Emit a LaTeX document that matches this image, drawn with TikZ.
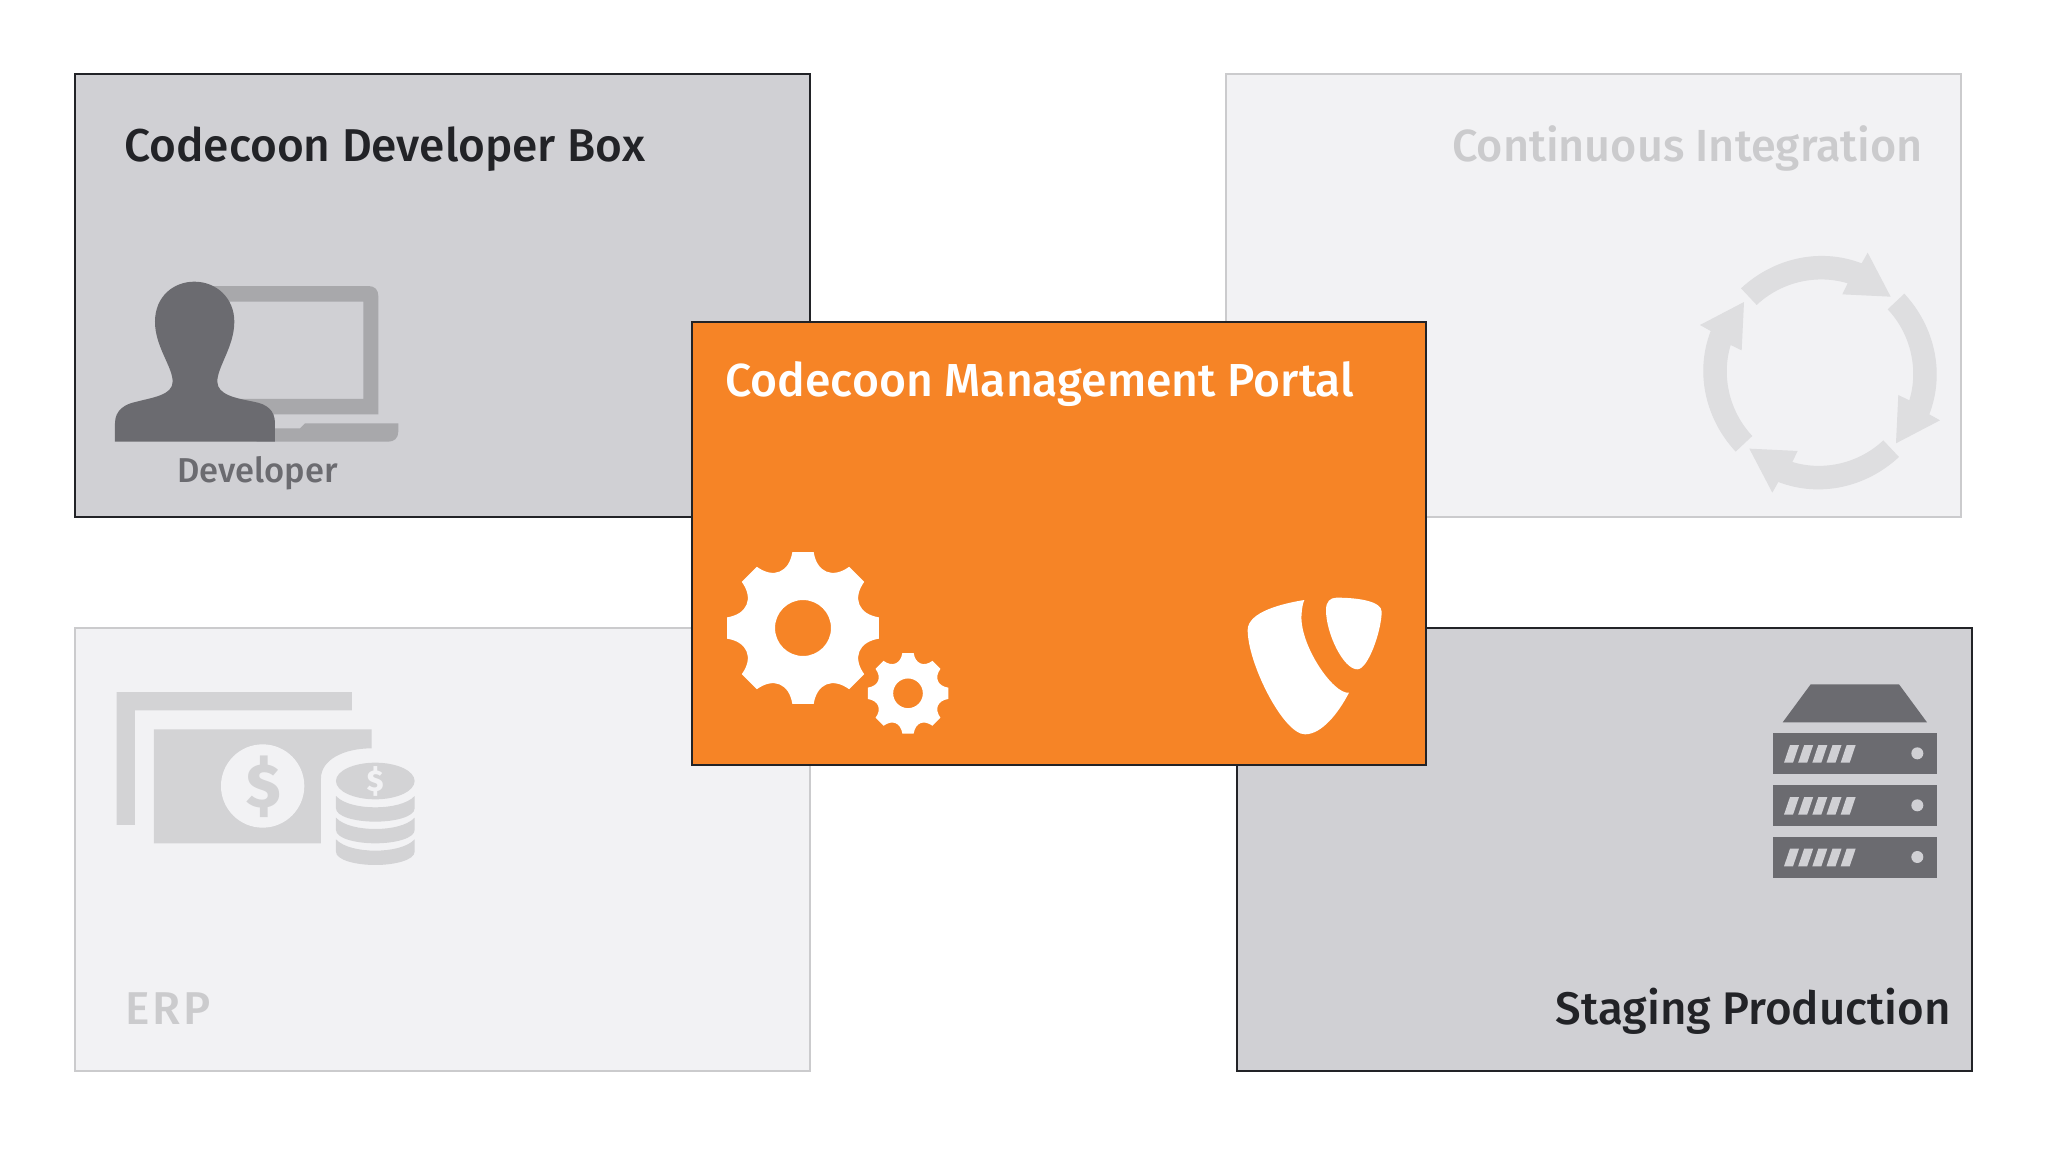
\documentclass[tikz,border=0pt]{standalone}
\usepackage{fontspec}
\setmainfont{Fira Sans}[UprightFont=* Medium]
\definecolor{panelgrey}{HTML}{D0D0D4}
\definecolor{panelpale}{HTML}{F2F2F4}
\definecolor{iconpale}{HTML}{D3D3D5}
\definecolor{iconring}{HTML}{DEDEE0}
\definecolor{icondark}{HTML}{6B6B70}
\definecolor{iconmid}{HTML}{A8A8AB}
\definecolor{portalorange}{HTML}{F68426}
\definecolor{inkdark}{HTML}{222327}
\definecolor{inkpale}{HTML}{CBCBCD}
\tikzset{
  panel/.style={rectangle, minimum width=735pt, minimum height=443pt, line width=2pt, inner sep=0pt, outer sep=0pt},
  activepanel/.style={panel, draw=inkdark, fill=panelgrey},
  palepanel/.style={panel, draw=inkpale, fill=panelpale},
  title/.style={inner sep=0pt, font=\fontsize{46}{50}\selectfont},
}
\begin{document}
\begin{tikzpicture}[x=1pt, y=-1pt, node distance=554pt]
    \useasboundingbox (0,0) rectangle (2048,1152);
    \fill[white] (0,0) rectangle (2048,1152);
    \node[activepanel] (dev) at (442.5,295.5) {};
    \node[palepanel, right of=dev, node distance=1151pt] (ci) {};
    \node[palepanel, below of=dev] (erp) {};
    \node[activepanel, right of=erp, node distance=1161.5pt] (stage) {};
    \node[panel, draw=inkdark, fill=portalorange, minimum width=734pt] (portal) at (1058.5,543.5) {};
    \node[title, anchor=base west, text=inkdark] (devtitle) at (124,161) {Codecoon Developer Box};
    \node[title, anchor=base east, text=inkpale, font=\fontsize{45}{50}\selectfont] (cititle) at (1923,161) {Continuous Integration};
    \node[title, anchor=base west, text=white, font=\fontsize{46.3}{50}\selectfont] (portaltitle) at (725,396) {Codecoon Management Portal};
    \node[title, anchor=base west, text=inkpale, font=\fontsize{46}{50}\selectfont\addfontfeature{LetterSpace=6}] (erptitle) at (125,1024) {ERP};
    \node[title, anchor=base east, text=inkdark, font=\fontsize{45.7}{50}\selectfont] (stagetitle) at (1951,1024) {Staging Production};
    \node[anchor=base, inner sep=0pt, text=icondark, font=\fontsize{34.5}{40}\selectfont] (devlabel) at (257.5,482) {Developer};

    \begin{scope}[shift={(90,260)}, scale=0.3333]
      \fill[iconmid, even odd rule] (300,78) -- (835,78) .. controls (855,78) and (865,90) .. (865,108) -- (865,463) -- (300,463) -- cycle
        (300,125) rectangle (820,417);
      \fill[iconmid] (500,505) -- (630,505) -- (645,490) -- (925,490) -- (925,515) .. controls (925,535) and (912,545) .. (895,545) -- (500,545) -- cycle;
      \fill[icondark] (75,545) -- (75,490) .. controls (75,450) and (105,432) .. (140,425)
        .. controls (190,412) and (248,405) .. (248,365) .. controls (248,320) and (195,260) .. (195,185)
        .. controls (195,110) and (250,65) .. (313,65) .. controls (380,65) and (433,115) .. (433,185)
        .. controls (433,260) and (382,320) .. (382,365) .. controls (382,405) and (440,415) .. (490,425)
        .. controls (530,432) and (555,450) .. (555,490) -- (555,545) -- cycle;
    \end{scope}

    \begin{scope}[shift={(1680,230)}, scale=0.3333]
      \foreach \a in {0,90,180,270}
        \fill[iconring, rotate around={\a:(420,428)}] (183,175) .. controls (281,84) and (420,52) .. (545,100)
          -- (563,68) -- (632,200) -- (487,193) -- (503,160)
          .. controls (408,131) and (302,157) .. (230,225) -- cycle;
    \end{scope}

    \begin{scope}[shift={(100,670)}, scale=0.3333]
      \fill[iconpale] (50,66) -- (756,66) -- (756,121) -- (105,121) -- (105,465) -- (50,465) -- cycle;
      \fill[iconpale] (162,178) -- (815,178) -- (815,235) .. controls (730,235) and (663,270) .. (663,325)
        -- (663,520) -- (162,520) -- cycle;
      \fill[panelpale] (488,348) circle (125);
      \node[inner sep=0pt, text=iconpale, font=\fontsize{62}{62}\selectfont\bfseries] (billsign) at (491,350) {\$};
      \fill[iconpale] (826,333) ellipse [x radius=118, y radius=55];
      \node[inner sep=0pt, text=panelpale, font=\fontsize{30}{30}\selectfont\bfseries] (coinsign) at (826,333) {\$};
      \foreach \s in {0,65,130}
        \fill[iconpale] (708,378+\s) .. controls (730,402+\s) and (780,412+\s) .. (826,412+\s)
          .. controls (872,412+\s) and (922,402+\s) .. (944,378+\s) -- (944,415+\s)
          .. controls (944,440+\s) and (885,455+\s) .. (826,455+\s)
          .. controls (767,455+\s) and (708,440+\s) .. (708,415+\s) -- cycle;
    \end{scope}

    \foreach \gx/\gy/\gs in {803/628/0.3333, 908/693.3/0.1767}
      \fill[white, even odd rule, shift={(\gx,\gy)}, scale=\gs] (-8:230)
        \foreach \a in {0,45,...,315} {
          -- ({\a-8}:230) -- ({\a+8}:230) .. controls ({\a+14}:172) and ({\a+31}:172) .. ({\a+37}:230)
        } -- cycle (0,0) circle (84);

    \begin{scope}[shift={(1220,580)}, scale=0.3333]
      \fill[white] (253,60) .. controls (190,70) and (83,95) .. (83,150) .. controls (83,250) and (190,463) .. (255,463)
        .. controls (305,463) and (355,400) .. (387,338) .. controls (340,345) and (235,190) .. (245,100)
        .. controls (246,85) and (248,72) .. (253,60) -- cycle;
      \fill[white] (318,90) .. controls (318,65) and (330,53) .. (350,53) .. controls (420,53) and (485,65) .. (485,95)
        .. controls (485,150) and (445,268) .. (412,268) .. controls (370,268) and (318,160) .. (318,90) -- cycle;
    \end{scope}

    \begin{scope}[shift={(1760,670)}, scale=0.3333]
      \fill[icondark] (152,43) -- (417,43) -- (501,157) -- (68,157) -- cycle;
      \foreach \r in {189,345,500} {
        \fill[icondark] (39,\r) rectangle (530,\r+123);
        \fill[panelgrey] (472,\r+61) circle (18);
        \foreach \k in {0,...,4}
          \fill[panelgrey] ({72+42.5*\k},\r+89) -- ({99+42.5*\k},\r+89) -- ({117+42.5*\k},\r+36) -- ({90+42.5*\k},\r+36) -- cycle;
      }
    \end{scope}
  \end{tikzpicture}
\end{document}
